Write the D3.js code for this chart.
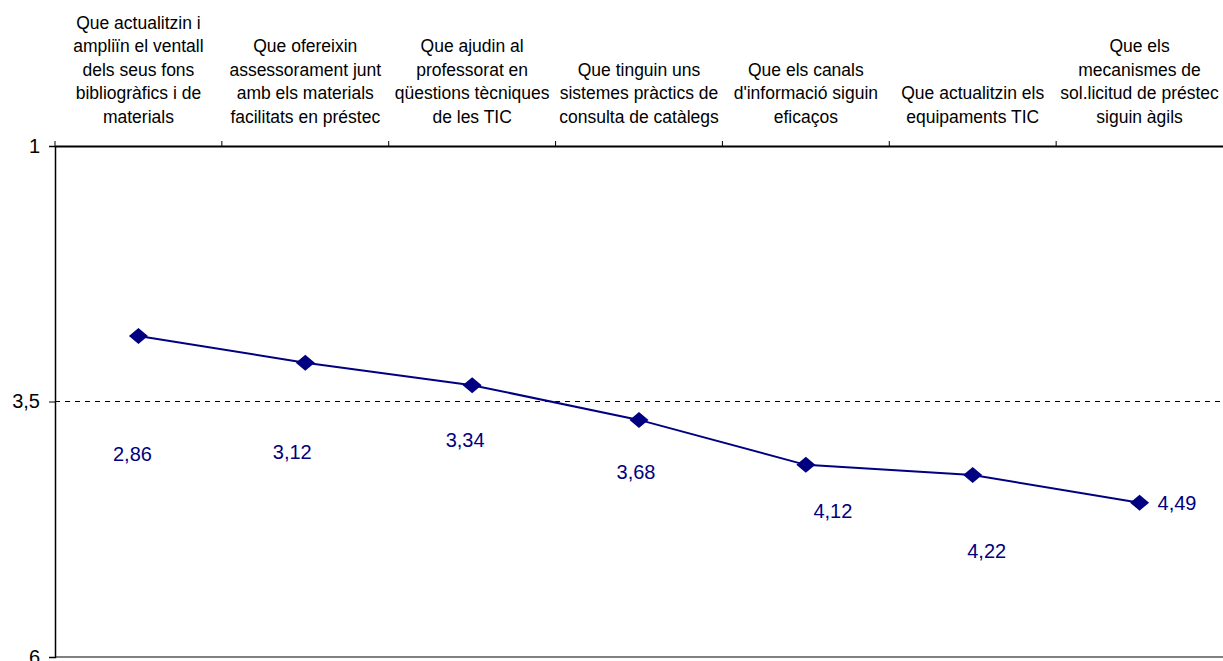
<!DOCTYPE html>
<html><head><meta charset="utf-8">
<script src="https://cdn.jsdelivr.net/npm/d3@7"></script>
<style>body{margin:0;background:#fff;}svg{display:block;font-family:"Liberation Sans",Arial,sans-serif;}</style>
</head><body><svg id="c" width="1223" height="661"></svg>
<script>
const categories = [
  ["Que actualitzin i","ampliïn el ventall","dels seus fons","bibliogràfics i de","materials"],
  ["Que ofereixin","assessorament junt","amb els materials","facilitats en préstec"],
  ["Que ajudin al","professorat en","qüestions tècniques","de les TIC"],
  ["Que tinguin uns","sistemes pràctics de","consulta de catàlegs"],
  ["Que els canals","d'informació siguin","eficaços"],
  ["Que actualitzin els","equipaments TIC"],
  ["Que els","mecanismes de","sol.licitud de préstec","siguin àgils"]
];
const values = [2.86, 3.12, 3.34, 3.68, 4.12, 4.22, 4.49];
const yTicks = [1, 3.5, 6];
const labelOffsets = [[-6,118],[-13,89],[-7,55],[-3,52],[27,46],[14,76],[38,0]];

const svg = d3.select("#c");
const L = 55, R = 1223, T = 146, B = 657;
const x = d3.scaleBand().domain(d3.range(categories.length)).range([L, R]).padding(0);
const y = d3.scaleLinear().domain([1, 6]).range([T, B]);
const fmt = d => String(d).replace(".", ",");

// dashed gridline at 3.5
svg.append("line").attr("x1", L).attr("x2", R).attr("y1", y(3.5)).attr("y2", y(3.5))
  .attr("stroke", "#000").attr("stroke-width", 1).attr("stroke-dasharray", "5,5");

// bottom line
svg.append("line").attr("x1", L).attr("x2", R).attr("y1", B).attr("y2", B)
  .attr("stroke", "#808080").attr("stroke-width", 2);

// left axis
const ya = svg.append("g").attr("transform", `translate(${L},0)`)
  .call(d3.axisLeft(y).tickValues(yTicks).tickFormat(fmt).tickSize(6).tickPadding(9));
ya.attr("font-size", null).attr("font-family", null);
ya.select(".domain").attr("stroke", "#000").attr("stroke-width", 1.5);
ya.selectAll(".tick line").attr("stroke", "#000");
ya.selectAll(".tick text").style("font-size", "20px").attr("fill", "#000");

// top axis (category axis)
const xa = svg.append("g").attr("transform", `translate(0,${T})`)
  .call(d3.axisTop(x).tickFormat("").tickSize(0));
xa.select(".domain").attr("stroke", "#000").attr("stroke-width", 2);
// boundary ticks
svg.append("g").selectAll("line").data(d3.range(categories.length)).join("line")
  .attr("x1", i => x(i)).attr("x2", i => x(i)).attr("y1", T - 5).attr("y2", T)
  .attr("stroke", "#000");

// category labels
const lineH = 23.6;
svg.append("g").selectAll("text").data(categories).join("text")
  .attr("text-anchor", "middle").style("font-size", "17.5px").attr("fill", "#000")
  .each(function(lines, i) {
    const t = d3.select(this);
    const n = lines.length;
    lines.forEach((ln, k) => {
      t.append("tspan").attr("x", x(i) + x.bandwidth() / 2)
        .attr("y", 123 - (n - 1 - k) * lineH).text(ln);
    });
  });

// line
const cx = i => x(i) + x.bandwidth() / 2;
svg.append("path").datum(values)
  .attr("d", d3.line().x((d, i) => cx(i)).y(d => y(d)))
  .attr("fill", "none").attr("stroke", "#000080").attr("stroke-width", 2);

// markers (wide diamond)
const wideDiamond = { draw(ctx, size) { const w = 9.5, h = 8; ctx.moveTo(0, -h); ctx.lineTo(w, 0); ctx.lineTo(0, h); ctx.lineTo(-w, 0); ctx.closePath(); } };
svg.append("g").selectAll("path").data(values).join("path")
  .attr("transform", (d, i) => `translate(${cx(i)},${y(d)})`)
  .attr("d", d3.symbol(wideDiamond, 100)())
  .attr("fill", "#000080");

// data labels
svg.append("g").selectAll("text").data(values).join("text")
  .attr("x", (d, i) => cx(i) + labelOffsets[i][0])
  .attr("y", (d, i) => y(d) + labelOffsets[i][1])
  .attr("dy", "0.35em")
  .attr("text-anchor", (d, i) => i === values.length - 1 ? "start" : "middle")
  .attr("dx", (d, i) => i === values.length - 1 ? -20 : 0)
  .style("font-size", "20px").attr("fill", "#000080").text(fmt);
</script></body></html>
